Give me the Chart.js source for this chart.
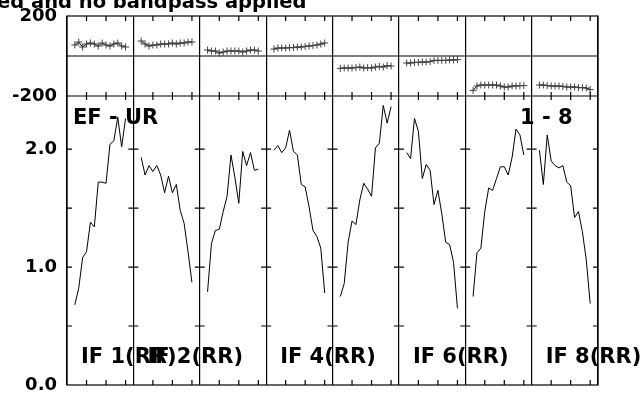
<!DOCTYPE html>
<html>
<head>
<meta charset="utf-8">
<script src="https://cdn.jsdelivr.net/npm/chart.js@4"></script>
<style>
  html, body { margin: 0; padding: 0; background: #fff; }
</style>
</head>
<body>
<canvas id="grafico" width="642" height="396"></canvas>
<script>
// canais por IF (1 - 16, os das pontas ficam de fora)
var canais = [2, 3, 4, 5, 6, 7, 8, 9, 10, 11, 12, 13, 14, 15];

// amplitude
var ampIF1 = [0.68, 0.82, 1.08, 1.13, 1.38, 1.34, 1.72, 1.72, 1.71, 2.04, 2.07, 2.27, 2.02, 2.26];
var ampIF2 = [1.93, 1.78, 1.86, 1.81, 1.86, 1.78, 1.63, 1.77, 1.63, 1.70, 1.48, 1.37, 1.13, 0.87];
var ampIF3 = [0.79, 1.20, 1.31, 1.32, 1.47, 1.60, 1.95, 1.76, 1.54, 1.98, 1.86, 1.97, 1.82, 1.83];
var ampIF4 = [1.99, 2.03, 1.97, 2.01, 2.16, 1.98, 1.95, 1.70, 1.68, 1.51, 1.31, 1.26, 1.16, 0.78];
var ampIF5 = [0.75, 0.86, 1.21, 1.39, 1.36, 1.57, 1.71, 1.66, 1.60, 2.01, 2.05, 2.37, 2.22, 2.36];
var ampIF6 = [1.97, 1.92, 2.26, 2.15, 1.75, 1.87, 1.82, 1.53, 1.65, 1.45, 1.21, 1.19, 1.04, 0.65];
var ampIF7 = [0.75, 1.12, 1.16, 1.47, 1.67, 1.65, 1.75, 1.85, 1.85, 1.78, 1.93, 2.17, 2.12, 1.95];
var ampIF8 = [1.99, 1.70, 2.12, 1.90, 1.86, 1.84, 1.86, 1.72, 1.69, 1.42, 1.47, 1.30, 1.06, 0.69];

// fase (graus)
var faseIF1 = [55, 70, 45, 60, 65, 60, 50, 65, 55, 50, 60, 65, 50, 45];
var faseIF2 = [75, 60, 50, 55, 55, 60, 60, 60, 65, 60, 65, 65, 70, 70];
var faseIF3 = [30, 25, 25, 15, 20, 25, 25, 25, 25, 20, 25, 30, 30, 25];
var faseIF4 = [35, 40, 40, 40, 42, 42, 45, 45, 48, 50, 52, 55, 60, 65];
var faseIF5 = [-62, -60, -60, -60, -58, -55, -60, -58, -60, -55, -52, -55, -48, -50];
var faseIF6 = [-35, -35, -32, -32, -30, -30, -28, -22, -22, -22, -22, -20, -20, -18];
var faseIF7 = [-172, -150, -145, -145, -145, -145, -145, -150, -155, -155, -150, -150, -148, -148];
var faseIF8 = [-145, -145, -148, -150, -150, -150, -152, -155, -155, -155, -158, -158, -160, -168];

var ampTicks = [0, 1, 2];
var rotulosIF = ['IF 1(RR)', 'IF 2(RR)', '', 'IF 4(RR)', '', 'IF 6(RR)', '', 'IF 8(RR)'];
var rotuloBase = 'EF - UR';
var rotuloStokes = '1 - 8';
var titulo = 'ed and no bandpass applied';

var LARG = 17; // canais por painel no eixo x

var amps = [ampIF1, ampIF2, ampIF3, ampIF4, ampIF5, ampIF6, ampIF7, ampIF8];
var fases = [faseIF1, faseIF2, faseIF3, faseIF4, faseIF5, faseIF6, faseIF7, faseIF8];

var datasets = [];
amps.forEach(function (a, p) {
  datasets.push({
    yAxisID: 'amp',
    data: a.map(function (v, i) { return { x: p * LARG + canais[i], y: v }; }),
    borderColor: '#000',
    borderWidth: 1,
    pointRadius: 0,
    tension: 0
  });
});
fases.forEach(function (a, p) {
  datasets.push({
    yAxisID: 'fase',
    data: a.map(function (v, i) { return { x: p * LARG + canais[i], y: v }; }),
    borderColor: '#000',
    borderWidth: 1,
    pointStyle: 'cross',
    pointRadius: 3.5,
    pointBorderColor: '#444',
    pointBorderWidth: 1,
    tension: 0
  });
});

// largura fixa do eixo y e sem folga extra dos rotulos
function fixaEixo(s) {
  s.width = 67;
  s.paddingTop = 0;
  s.paddingBottom = 0;
}

const moldura = {
  id: 'moldura',
  afterDraw(chart) {
    var c = chart.ctx, a = chart.chartArea;
    var x = chart.scales.x, f = chart.scales.fase, m = chart.scales.amp;
    var sep = f.getPixelForValue(-200);
    var zero = f.getPixelForValue(0);
    c.save();
    c.strokeStyle = '#000';
    c.lineWidth = 1.2;
    c.strokeRect(a.left, a.top, a.right - a.left, a.bottom - a.top);
    c.beginPath();
    c.moveTo(a.left, sep); c.lineTo(a.right, sep);
    c.moveTo(a.left, zero); c.lineTo(a.right, zero);
    for (var p = 0; p < 8; p++) {
      [5, 10, 15].forEach(function (ch) {
        var px = x.getPixelForValue(p * LARG + ch);
        c.moveTo(px, a.top); c.lineTo(px, a.top + 5);
        c.moveTo(px, sep - 4); c.lineTo(px, sep + 4);
        c.moveTo(px, a.bottom - 5); c.lineTo(px, a.bottom);
      });
    }
    for (var q = 0; q <= 8; q++) {
      var dx = x.getPixelForValue(q * LARG);
      [0.5, 1, 1.5, 2].forEach(function (v) {
        var py = m.getPixelForValue(v);
        c.moveTo(Math.max(a.left, dx - 5), py);
        c.lineTo(Math.min(a.right, dx + 5), py);
      });
    }
    c.stroke();

    c.fillStyle = '#000';
    c.textBaseline = 'alphabetic';
    c.font = 'bold 21px "DejaVu Sans"';
    c.textAlign = 'left';
    c.fillText(rotuloBase, a.left + 6, 124);
    rotulosIF.forEach(function (t, p) {
      if (t) c.fillText(t, x.getPixelForValue(p * LARG) + 14, 363);
    });
    c.textAlign = 'right';
    c.fillText(rotuloStokes, x.getPixelForValue(7 * LARG + 10.5), 124);
    c.textAlign = 'left';
    c.font = 'bold 19.5px "DejaVu Sans"';
    c.fillText(titulo, -3, 8);
    c.restore();
  }
};

const ctx = document.getElementById('grafico');

new Chart(ctx, {
  type: 'line',
  data: { datasets: datasets },
  options: {
    responsive: false,
    animation: false,
    layout: { padding: { top: 16, right: 44, bottom: 11, left: 0 } },
    plugins: { legend: { display: false }, tooltip: { enabled: false } },
    scales: {
      x: {
        type: 'linear', min: 0, max: 8 * LARG,
        ticks: { stepSize: LARG, display: false },
        grid: { color: '#000', lineWidth: 1.2, drawTicks: false },
        border: { display: false },
        afterFit: function (s) { s.height = 0; }
      },
      amp: {
        position: 'left', stack: 'v', stackWeight: 289,
        min: 0, max: 2.45,
        ticks: {
          stepSize: 0.5, autoSkip: false, padding: 10, color: '#000',
          font: { family: 'DejaVu Sans', weight: 'bold', size: 18 },
          callback: function (v) { return ampTicks.indexOf(v) >= 0 ? v.toFixed(1) : ''; }
        },
        grid: { display: false, drawTicks: false },
        border: { display: false },
        afterFit: fixaEixo
      },
      fase: {
        position: 'left', stack: 'v', stackWeight: 80,
        min: -200, max: 200,
        ticks: {
          stepSize: 200, autoSkip: false, padding: 10, color: '#000',
          font: { family: 'DejaVu Sans', weight: 'bold', size: 18 },
          callback: function (v) { return v === 0 ? '' : String(v); }
        },
        grid: { display: false, drawTicks: false },
        border: { display: false },
        afterFit: fixaEixo
      }
    }
  },
  plugins: [moldura]
});
</script>
</body>
</html>
